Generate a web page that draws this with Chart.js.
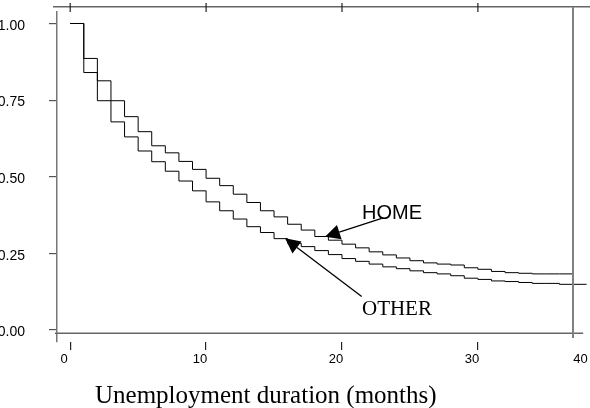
<!DOCTYPE html>
<html>
<head>
<meta charset="utf-8">
<script src="https://cdn.jsdelivr.net/npm/chart.js@4.4.1/dist/chart.umd.min.js"></script>
<style>
  html, body { margin: 0; padding: 0; background: #fff; }
  #wrap { width: 590px; height: 408px; position: relative; }
</style>
</head>
<body>
<div id="wrap"><canvas id="kmChart"></canvas></div>
<script>
// survivor estimates, one value per month (holds until the next month)
const homeSurvival = [1.000, 0.886, 0.813, 0.748, 0.696, 0.647, 0.601, 0.578, 0.550, 0.524,
  0.495, 0.471, 0.443, 0.416, 0.389, 0.369, 0.345, 0.326, 0.305, 0.293,
  0.280, 0.268, 0.255, 0.245, 0.235, 0.226, 0.219, 0.215, 0.212, 0.203,
  0.198, 0.191, 0.187, 0.185, 0.183, 0.183, 0.183, 0.183];
const otherSurvival = [1.000, 0.840, 0.748, 0.679, 0.630, 0.584, 0.549, 0.518, 0.486, 0.454,
  0.418, 0.389, 0.362, 0.337, 0.318, 0.298, 0.283, 0.272, 0.259, 0.246,
  0.233, 0.224, 0.215, 0.206, 0.200, 0.193, 0.187, 0.183, 0.177, 0.169,
  0.165, 0.160, 0.158, 0.155, 0.152, 0.152, 0.149, 0.149, 0.149];
const xTickValues = [0, 10, 20, 30, 40];
const xTickLabels = ['0', '10', '20', '30', '40'];
const yTickValues = [0, 0.25, 0.5, 0.75, 1];
const yTickLabels = ['0.00', '0.25', '0.50', '0.75', '1.00'];
const xAxisTitle = 'Unemployment duration (months)';

const lastMonth = otherSurvival.length - 1;
const homeEnd = homeSurvival.length - 1;

function toPoints(values) {
  return values.map((v, i) => ({ x: i, y: v }));
}

function arrow(ctx, x, y, tail, tip) {
  const x1 = x.getPixelForValue(tail[0]), y1 = y.getPixelForValue(tail[1]);
  const x2 = x.getPixelForValue(tip[0]), y2 = y.getPixelForValue(tip[1]);
  const a = Math.atan2(y2 - y1, x2 - x1);
  const len = 15, half = 7.5;
  const bx = x2 - len * Math.cos(a), by = y2 - len * Math.sin(a);
  ctx.beginPath();
  ctx.moveTo(x1, y1);
  ctx.lineTo(bx, by);
  ctx.stroke();
  ctx.beginPath();
  ctx.moveTo(x2, y2);
  ctx.lineTo(bx + half * Math.sin(a), by - half * Math.cos(a));
  ctx.lineTo(bx - half * Math.sin(a), by + half * Math.cos(a));
  ctx.closePath();
  ctx.fill();
}

const decorations = {
  id: 'decorations',
  afterDraw(chart) {
    const { ctx, chartArea, scales: { x, y } } = chart;
    const topY = chartArea.top - 5.3;
    ctx.save();
    ctx.strokeStyle = '#666';
    ctx.lineWidth = 1.5;
    // top frame line
    ctx.beginPath();
    ctx.moveTo(chartArea.left - 4, topY);
    ctx.lineTo(chartArea.right, topY);
    ctx.stroke();
    // bottom line just under zero
    const zeroY = y.getPixelForValue(0) + 3.3;
    ctx.beginPath();
    ctx.moveTo(chartArea.left - 2, zeroY);
    ctx.lineTo(x.getPixelForValue(37.75), zeroY);
    ctx.stroke();
    // right vertical line
    const rx = x.getPixelForValue(homeEnd);
    ctx.lineWidth = 2;
    ctx.strokeStyle = '#808080';
    ctx.beginPath();
    ctx.moveTo(rx, topY);
    ctx.lineTo(rx, chartArea.bottom - 4);
    ctx.stroke();
    // top ticks
    ctx.strokeStyle = '#222';
    ctx.lineWidth = 1.2;
    xTickValues.filter(v => v <= lastMonth).forEach(v => {
      const px = x.getPixelForValue(v);
      ctx.beginPath();
      ctx.moveTo(px, chartArea.top - 9);
      ctx.lineTo(px, chartArea.top);
      ctx.stroke();
    });
    // annotations
    ctx.fillStyle = '#000';
    ctx.strokeStyle = '#000';
    ctx.lineWidth = 1.3;
    arrow(ctx, x, y, [22.92, 0.364], [18.75, 0.304]);
    arrow(ctx, x, y, [21.45, 0.109], [15.81, 0.299]);
    ctx.textAlign = 'left';
    ctx.textBaseline = 'alphabetic';
    ctx.font = '20px "Liberation Sans", Arial, sans-serif';
    ctx.fillText('HOME', x.getPixelForValue(21.47), y.getPixelForValue(0.362));
    ctx.font = '21px "Liberation Serif", "Times New Roman", serif';
    ctx.fillText('OTHER', x.getPixelForValue(21.47), y.getPixelForValue(0.049));
    // axis title
    ctx.font = '25px "Liberation Serif", "Times New Roman", serif';
    ctx.fillText(xAxisTitle, 95, 403);
    ctx.restore();
  }
};

const ctx = document.getElementById('kmChart').getContext('2d');
const kmChart = new Chart(ctx, {
  type: 'line',
  data: {
    datasets: [{
      label: 'HOME',
      data: toPoints(homeSurvival),
      borderColor: '#000',
      borderWidth: 1,
      pointRadius: 0,
      stepped: 'before',
      fill: false
    }, {
      label: 'OTHER',
      data: toPoints(otherSurvival),
      borderColor: '#000',
      borderWidth: 1,
      pointRadius: 0,
      stepped: 'before',
      fill: false
    }]
  },
  options: {
    responsive: true,
    maintainAspectRatio: false,
    animation: false,
    layout: { padding: { top: 12, right: 0, bottom: 0, left: 0 } },
    scales: {
      x: {
        type: 'linear',
        min: -0.971,
        max: 38.25,
        afterBuildTicks: s => {
          s.ticks = xTickValues.map(v => ({ value: Math.min(v, lastMonth) }));
        },
        afterFit: s => {
          s.height = 66;
          s.paddingLeft = 0;
          s.paddingRight = 0;
        },
        border: { display: false },
        grid: {
          drawOnChartArea: false,
          drawTicks: true,
          tickLength: 8,
          lineWidth: 1.2,
          color: c => (c.tick && c.index < xTickValues.length && c.tick.value < xTickValues[c.index]) ? 'rgba(0,0,0,0)' : '#222'
        },
        ticks: {
          padding: 2,
          labelOffset: -6,
          maxRotation: 0,
          color: '#000',
          font: { family: '"Liberation Sans", Arial, sans-serif', size: 13 },
          callback: (v, i) => xTickLabels[i]
        }
      },
      y: {
        min: -0.0392,
        max: 1.0375,
        afterBuildTicks: s => {
          s.ticks = yTickValues.map(v => ({ value: v }));
        },
        afterFit: s => {
          s.width = 57;
          s.paddingTop = 0;
          s.paddingBottom = 0;
        },
        border: { display: true, color: '#777', width: 1.5 },
        grid: {
          drawOnChartArea: false,
          drawTicks: true,
          tickLength: 8,
          lineWidth: 1.2,
          color: '#555'
        },
        ticks: {
          padding: 24,
          labelOffset: 2.5,
          color: '#000',
          font: { family: '"Liberation Sans", Arial, sans-serif', size: 14 },
          callback: (v, i) => yTickLabels[i]
        }
      }
    },
    plugins: {
      legend: { display: false },
      tooltip: { enabled: false },
      title: { display: false }
    }
  },
  plugins: [decorations]
});
</script>
</body>
</html>
